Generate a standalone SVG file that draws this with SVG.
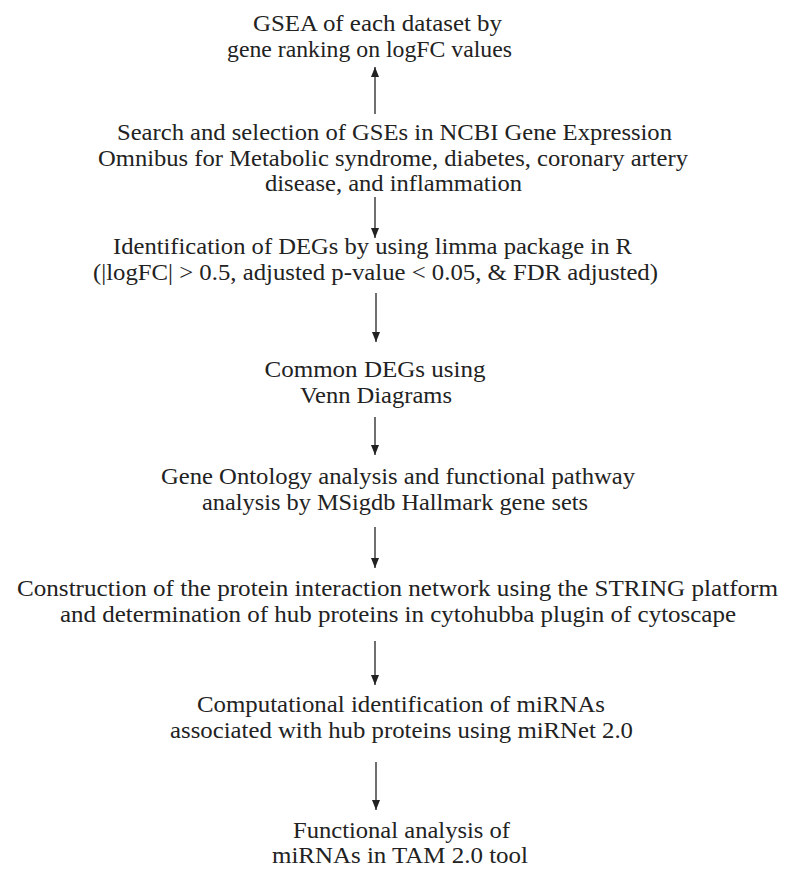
<svg xmlns="http://www.w3.org/2000/svg" width="788" height="884" viewBox="0 0 788 884">
<defs>
<style>
.t{font-family:'Liberation Serif',serif !important;font-size:22.5px;fill:#222;text-anchor:middle}
.c{font-size:23px}
.a{stroke:#333;stroke-width:1.4}
</style>
<marker id="ah" viewBox="0 0 10 10" refX="10" refY="5" markerWidth="10" markerHeight="8" markerUnits="userSpaceOnUse" orient="auto" preserveAspectRatio="none"><path d="M0,0 L10,5 L0,10 z" fill="#222"/></marker>
</defs>
<rect width="788" height="884" fill="#fff"/>
<g id="n1"><text class="t" style="font-family:'Liberation Serif',serif" x="377.5" y="31" textLength="249" lengthAdjust="spacingAndGlyphs">GSEA of each dataset by</text><text class="t" style="font-family:'Liberation Serif',serif" x="369.5" y="57" textLength="285" lengthAdjust="spacingAndGlyphs">gene ranking on logFC values</text></g>
<g id="n2"><text class="t" style="font-family:'Liberation Serif',serif" x="394.5" y="140" textLength="555" lengthAdjust="spacingAndGlyphs">Search and selection of GSEs in NCBI Gene Expression</text><text class="t" style="font-family:'Liberation Serif',serif" x="393" y="166" textLength="590" lengthAdjust="spacingAndGlyphs">Omnibus for Metabolic syndrome, diabetes, coronary artery</text><text class="t" style="font-family:'Liberation Serif',serif" x="393.5" y="191" textLength="257" lengthAdjust="spacingAndGlyphs">disease, and inflammation</text></g>
<g id="n3"><text class="t" style="font-family:'Liberation Serif',serif" x="372.5" y="254" textLength="519" lengthAdjust="spacingAndGlyphs">Identification of DEGs by using limma package in R</text><text class="t" style="font-family:'Liberation Serif',serif" x="375.5" y="280" textLength="565" lengthAdjust="spacingAndGlyphs">(|logFC| &gt; 0.5, adjusted p-value &lt; 0.05, &amp; FDR adjusted)</text></g>
<g id="n4"><text class="t c" style="font-family:'Liberation Serif',serif" x="375" y="377" textLength="221" lengthAdjust="spacingAndGlyphs">Common DEGs using</text><text class="t c" style="font-family:'Liberation Serif',serif" x="376" y="403" textLength="152" lengthAdjust="spacingAndGlyphs">Venn Diagrams</text></g>
<g id="n5"><text class="t c" style="font-family:'Liberation Serif',serif" x="398" y="484" textLength="474" lengthAdjust="spacingAndGlyphs">Gene Ontology analysis and functional pathway</text><text class="t c" style="font-family:'Liberation Serif',serif" x="395" y="510" textLength="386" lengthAdjust="spacingAndGlyphs">analysis by MSigdb Hallmark gene sets</text></g>
<g id="n6"><text class="t c" style="font-family:'Liberation Serif',serif" x="397.5" y="596" textLength="761" lengthAdjust="spacingAndGlyphs">Construction of the protein interaction network using the STRING platform</text><text class="t c" style="font-family:'Liberation Serif',serif" x="398" y="622" textLength="676" lengthAdjust="spacingAndGlyphs">and determination of hub proteins in cytohubba plugin of cytoscape</text></g>
<g id="n7"><text class="t" style="font-family:'Liberation Serif',serif" x="401" y="712" textLength="408" lengthAdjust="spacingAndGlyphs">Computational identification of miRNAs</text><text class="t" style="font-family:'Liberation Serif',serif" x="401.5" y="738" textLength="463" lengthAdjust="spacingAndGlyphs">associated with hub proteins using miRNet 2.0</text></g>
<g id="n8"><text class="t" style="font-family:'Liberation Serif',serif" x="401.5" y="838" textLength="217" lengthAdjust="spacingAndGlyphs">Functional analysis of</text><text class="t" style="font-family:'Liberation Serif',serif" x="400" y="863" textLength="256" lengthAdjust="spacingAndGlyphs">miRNAs in TAM 2.0 tool</text></g>
<g id="connectors">
<line class="a" x1="375" y1="114" x2="375" y2="67" marker-end="url(#ah)"/>
<line class="a" x1="375" y1="197" x2="375" y2="238" marker-end="url(#ah)"/>
<line class="a" x1="376" y1="293" x2="376" y2="342" marker-end="url(#ah)"/>
<line class="a" x1="375" y1="417" x2="375" y2="455" marker-end="url(#ah)"/>
<line class="a" x1="375" y1="527" x2="375" y2="568" marker-end="url(#ah)"/>
<line class="a" x1="375" y1="641" x2="375" y2="685" marker-end="url(#ah)"/>
<line class="a" x1="376" y1="762" x2="376" y2="810" marker-end="url(#ah)"/>
</g>
</svg>
